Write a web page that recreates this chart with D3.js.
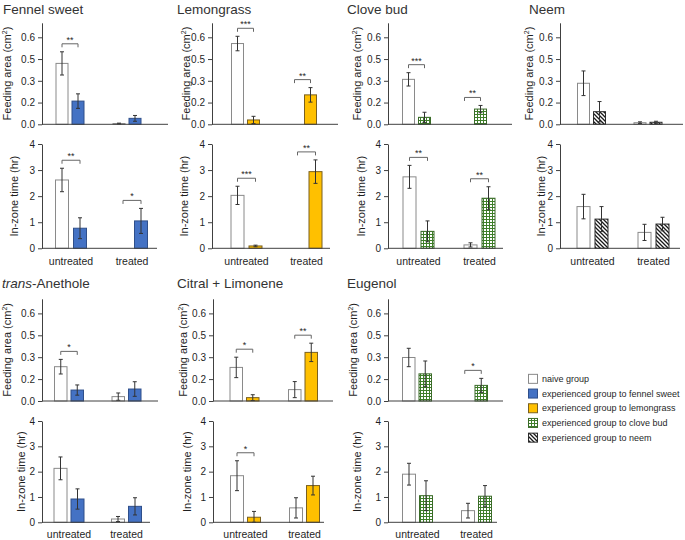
<!DOCTYPE html>
<html><head><meta charset="utf-8">
<script src="https://cdn.jsdelivr.net/npm/d3@7"></script>
<style>
body{margin:0;background:#fff}
svg{display:block}
text{font-family:"Liberation Sans",Arial,Helvetica,sans-serif;fill:#1f1f1f}
</style>
</head><body>
<svg id="chart" width="685" height="540"></svg>
<script>
// ---------------- DATA ----------------
const oils = ["Fennel sweet","Lemongrass","Clove bud","Neem","trans-Anethole","Citral + Limonene","Eugenol"];
const categories = ["untreated","treated"];
const groups = ["naive","experienced"];
const feedingTicks = [0, 0.15, 0.3, 0.45, 0.6];
const feedingTickLabels = ["0.0","0.2","0.3","0.5","0.6"];
const timeTicks = [0, 1, 2, 3, 4];
const timeTickLabels = ["0","1","2","3","4"];
// value order per oil: [naive untreated, experienced untreated, naive treated, experienced treated]
const feedingMeans = [
  [0.42, 0.16, 0.005, 0.041],
  [0.557, 0.03, 0, 0.203],
  [0.31, 0.048, 0, 0.105],
  [0.283, 0.087, 0.011, 0.014],
  [0.235, 0.075, 0.03, 0.082],
  [0.23, 0.023, 0.078, 0.333],
  [0.298, 0.186, 0, 0.107]
];
const feedingSE = [
  [0.08, 0.05, 0.003, 0.02],
  [0.05, 0.025, 0, 0.05],
  [0.046, 0.035, 0, 0.025],
  [0.085, 0.07, 0.006, 0.007],
  [0.05, 0.035, 0.025, 0.05],
  [0.07, 0.02, 0.055, 0.063],
  [0.063, 0.088, 0, 0.048]
];
const timeMeans = [
  [2.62, 0.77, 0, 1.05],
  [2.03, 0.09, 0, 2.94],
  [2.74, 0.65, 0.13, 1.92],
  [1.6, 1.12, 0.61, 0.93],
  [2.13, 0.92, 0.13, 0.63],
  [1.84, 0.2, 0.57, 1.45],
  [1.9, 1.05, 0.46, 1.03]
];
const timeSE = [
  [0.45, 0.4, 0, 0.48],
  [0.35, 0.03, 0, 0.45],
  [0.44, 0.4, 0.08, 0.44],
  [0.47, 0.48, 0.31, 0.26],
  [0.45, 0.4, 0.1, 0.34],
  [0.59, 0.23, 0.4, 0.37],
  [0.43, 0.59, 0.29, 0.42]
];
const feedingSig = [["**",""],["***","**"],["***","**"],["",""],["*",""],["*","**"],["","*"]];
const timeSig = [["**","*"],["***","**"],["**","**"],["",""],["",""],["*",""],["",""]];
const legendLabels = ["naive group","experienced group to fennel sweet","experienced group to lemongrass","experienced group to clove bud","experienced group to neem"];
const experiencedStyle = [1, 2, 3, 4, 1, 2, 3];

// ---------------- LAYOUT ----------------
const rowLayout = [
  {title: 14, F: [124.3, 22.8], T: [248.3, 144], cat: 264.5},
  {title: 288, F: [401, 298.8], T: [522.3, 421], cat: 538}
];
const panelLayout = [
  {row:0, titleX:3,   axisX:42,  F:{c1:70,step:57,bw:13,gap:3,end:168,lab:7},  T:{c1:71,step:61,bw:14,gap:4,end:157,lab:14}},
  {row:0, titleX:177, axisX:212, F:{c1:245.5,step:57,bw:13,gap:3,end:338,lab:186}, T:{c1:246.5,step:60,bw:14,gap:4,end:330,lab:184}},
  {row:0, titleX:347, axisX:388, F:{c1:416.5,step:56,bw:13,gap:3,end:512,lab:357}, T:{c1:418.5,step:61,bw:14,gap:4,end:503,lab:361}},
  {row:0, titleX:529, axisX:560, F:{c1:591.5,step:56.5,bw:13,gap:3,end:683,lab:529}, T:{c1:592.5,step:61,bw:14,gap:4,end:680,lab:541}},
  {row:1, titleX:2,   axisX:42,  F:{c1:69,step:57.5,bw:13.5,gap:3,end:158,lab:7}, T:{c1:69,step:57.5,bw:14,gap:3,end:150,lab:21}},
  {row:1, titleX:177, axisX:213, F:{c1:244.5,step:58.5,bw:13.5,gap:3,end:333,lab:183}, T:{c1:245.5,step:59,bw:14,gap:3,end:324,lab:187}},
  {row:1, titleX:347, axisX:388, F:{c1:417,step:56,bw:13.5,gap:3,end:503,lab:353}, T:{c1:417.5,step:59,bw:14,gap:3,end:497,lab:357}}
];

const svg = d3.select("#chart");
const defs = svg.append("defs");
const pg = defs.append("pattern").attr("id","pGrid").attr("patternUnits","userSpaceOnUse").attr("width",3).attr("height",3);
pg.append("rect").attr("width",3).attr("height",3).attr("fill","#ffffff");
pg.append("path").attr("d","M0,0.5H3M0.5,0V3").attr("stroke","#3f7f2a").attr("stroke-width",1);
const pd = defs.append("pattern").attr("id","pDiag").attr("patternUnits","userSpaceOnUse").attr("width",4).attr("height",4);
pd.append("rect").attr("width",4).attr("height",4).attr("fill","#ffffff");
pd.append("path").attr("d","M-1,-1L5,5M-1,3L1,5M3,-1L5,1").attr("stroke","#1a1a1a").attr("stroke-width",1.3);

const styles = [
  {fill:"#ffffff", stroke:"#8a8a8a"},
  {fill:"#4472c4", stroke:"#2f4f8a"},
  {fill:"#ffc000", stroke:"#7a6020"},
  {fill:"url(#pGrid)", stroke:"#3a6b28"},
  {fill:"url(#pDiag)", stroke:"#2a2a2a"}
];

function drawPanel(i, kind) {
  const P = panelLayout[i], R = rowLayout[P.row], L = P[kind];
  const means = kind === "F" ? feedingMeans[i] : timeMeans[i];
  const ses = kind === "F" ? feedingSE[i] : timeSE[i];
  const sig = kind === "F" ? feedingSig[i] : timeSig[i];
  const y = d3.scaleLinear().domain(kind === "F" ? [0, 0.7] : [0, 4]).range(R[kind]);
  const x0 = d3.scaleBand().domain(categories).range([L.c1 - L.step/2, L.c1 + L.step*1.5]);
  const x1 = d3.scaleBand().domain(groups).range([-(L.bw + L.gap/2), L.bw + L.gap/2]).paddingInner(L.gap/(L.bw + L.gap));
  const g = svg.append("g");

  categories.forEach((c, ci) => {
    groups.forEach((gr, gi) => {
      const k = ci*2 + gi;
      const v = means[k], se = ses[k];
      const bx = x0(c) + x0.bandwidth()/2 + x1(gr);
      const st = gi === 0 ? styles[0] : styles[experiencedStyle[i]];
      if (v > 0) {
        g.append("rect").attr("x", bx + 0.5).attr("y", y(v)).attr("width", x1.bandwidth() - 1)
          .attr("height", y(0) - y(v)).attr("fill", st.fill).attr("stroke", st.stroke).attr("stroke-width", 1);
      }
      if (se > 0) {
        const cx = bx + x1.bandwidth()/2;
        const lo = Math.max(0, v - se);
        g.append("path").attr("d", `M${cx},${y(lo)}V${y(v+se)}M${cx-2},${y(v+se)}H${cx+2}M${cx-2},${y(lo)}H${cx+2}`)
          .attr("stroke","#333").attr("stroke-width",1).attr("fill","none");
      }
    });
    if (sig[ci]) {
      const xa = x0(c) + x0.bandwidth()/2 + x1("naive") + x1.bandwidth()/2;
      const xb = x0(c) + x0.bandwidth()/2 + x1("experienced") + x1.bandwidth()/2;
      const top = Math.min(y(means[ci*2] + ses[ci*2]), y(means[ci*2+1] + ses[ci*2+1]));
      const by = top - 8;
      g.append("path").attr("d", `M${xa},${by+3.5}V${by}H${xb}V${by+3.5}`)
        .attr("stroke","#666").attr("stroke-width",1).attr("fill","none");
      g.append("text").attr("x", (xa+xb)/2).attr("y", by - 1).attr("text-anchor","middle")
        .attr("font-size", 9).text(sig[ci]);
    }
  });

  g.append("line").attr("x1", P.axisX).attr("x2", L.end).attr("y1", y(0)).attr("y2", y(0))
    .attr("stroke","#404040").attr("stroke-width",1);

  const ticks = kind === "F" ? feedingTicks : timeTicks;
  const labels = kind === "F" ? feedingTickLabels : timeTickLabels;
  const ax = g.append("g").attr("transform", `translate(${P.axisX},0)`)
    .call(d3.axisLeft(y).tickValues(ticks).tickFormat((d, j) => labels[j]).tickSizeOuter(0).tickSizeInner(4).tickPadding(3));
  ax.select(".domain").attr("stroke","#404040");
  ax.selectAll(".tick line").attr("stroke","#404040");
  ax.selectAll(".tick text").attr("font-size", 10).attr("fill","#262626")
    .attr("font-family","Liberation Sans, Arial, sans-serif");

  const ymid = (R[kind][0] + R[kind][1]) / 2;
  const t = g.append("text").attr("transform", `translate(${L.lab + 4},${ymid}) rotate(-90)`)
    .attr("text-anchor","middle").attr("font-size", 11);
  if (kind === "F") {
    t.append("tspan").text("Feeding area (cm");
    t.append("tspan").attr("font-size", 7).attr("dy", -4).text("2");
    t.append("tspan").attr("dy", 4).text(")");
  } else {
    t.text("In-zone time (hr)");
  }

  if (kind === "T") {
    categories.forEach(c => {
      g.append("text").attr("x", x0(c) + x0.bandwidth()/2).attr("y", R.cat)
        .attr("text-anchor","middle").attr("font-size", 10.5).text(c);
    });
  }
}

oils.forEach((name, i) => {
  const P = panelLayout[i], R = rowLayout[P.row];
  const tt = svg.append("text").attr("x", P.titleX).attr("y", R.title).attr("font-size", 13.5)
    .style("fill","#333");
  if (name.startsWith("trans-")) {
    tt.append("tspan").attr("font-style","italic").text("trans");
    tt.append("tspan").text(name.slice(5));
  } else {
    tt.text(name);
  }
  drawPanel(i, "F");
  drawPanel(i, "T");
});

const legY = d3.scaleBand().domain(legendLabels).range([371.5, 445]);
const lg = svg.append("g");
legendLabels.forEach((lab, j) => {
  const yy = legY(lab) + legY.bandwidth()/2;
  lg.append("rect").attr("x", 528.5).attr("y", yy - 4.5).attr("width", 9).attr("height", 9)
    .attr("fill", styles[j].fill).attr("stroke", styles[j].stroke).attr("stroke-width", 1);
  lg.append("text").attr("x", 542).attr("y", yy + 3.2).attr("font-size", 9).text(lab);
});
</script>
</body></html>
